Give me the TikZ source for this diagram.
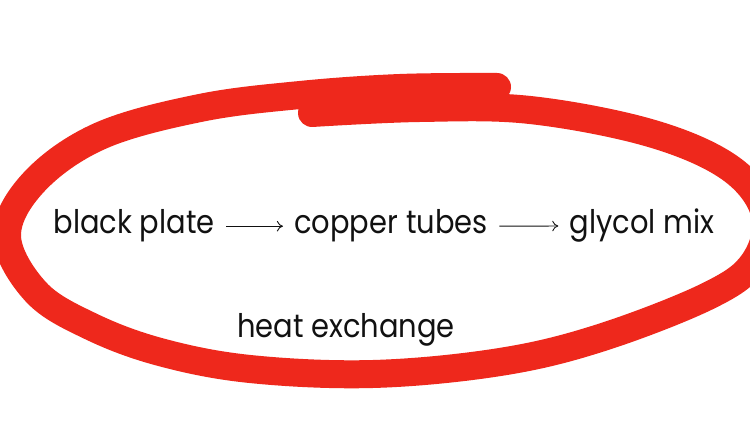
\documentclass[tikz,border=0pt]{standalone}
\usepackage{fontspec}
\setmainfont{Poppins}
\usetikzlibrary{arrows.meta}
\definecolor{markred}{RGB}{238,40,28}
\definecolor{ink}{RGB}{17,17,17}
\tikzset{
  marker/.style={draw=markred, line width=0.56cm, line cap=round, line join=round},
  lbl/.style={font=\fontsize{18.5}{20}\selectfont, text=ink, inner sep=0pt, anchor=base},
  flow/.style={draw=ink, line width=0.5pt, -{To[length=3.5pt,width=6pt]}, shorten <=0.23cm, shorten >=0.22cm}
}
\newcommand{\squeeze}[1]{\scalebox{0.89}[1]{#1}}
\begin{document}
\begin{tikzpicture}[x=0.02cm,y=-0.02cm]
\useasboundingbox (0,0) rectangle (750,421);
\fill[white] (0,0) rectangle (750,421);
\begin{scope}
\clip (0,0) rectangle (750,421);
\draw[marker] plot[smooth, tension=0.6] coordinates {
  (312,113) (420,108) (530,110) (650,133) (730,168) (765,214) (754,262)
  (708,296) (600,338) (500,362) (373,374) (250,369) (160,352) (90,326)
  (36,292) (7,236) (34,182) (100,136) (200,108) (300,95) (400,88) (497,87)};
\end{scope}
\node[lbl] (bp) at (134,234) {\squeeze{black plate}};
\node[lbl] (ct) at (391,234) {\squeeze{copper tubes}};
\node[lbl] (gm) at (642,234) {\squeeze{glycol mix}};
\node[lbl] (he) at (346,338) {\squeeze{heat exchange}};
\draw[flow] (bp.east) -- (ct.west);
\draw[flow] (ct.east) -- (gm.west);
\end{tikzpicture}
\end{document}
